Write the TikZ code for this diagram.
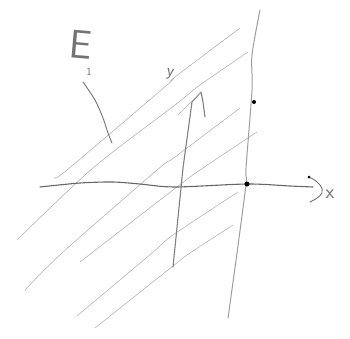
\documentclass[tikz,border=0pt]{standalone}
\begin{document}
\begin{tikzpicture}[x=1pt,y=-1pt,
  diag/.style={black!30, line width=0.55pt, line cap=round},
  axisline/.style={black!60, line width=1.1pt, line cap=round},
  vline/.style={black!38, line width=1pt, line cap=round},
  yshaft/.style={black!50, line width=1.1pt, line cap=round, line join=round},
  pen/.style={black!55, line width=0.9pt, line cap=round, line join=round},
  dot/.style={circle, fill=black, inner sep=0pt, minimum size=#1},
  lbl/.style={inner sep=0pt, text=black!55, font=\sffamily}]
\useasboundingbox (0,0) rectangle (350,338);
\fill[white] (0,0) rectangle (350,338);

% family of parallel diagonal lines
\draw[diag] plot[smooth] coordinates {(55,177) (67,170) (167,85) (175,77) (240,28)};
\draw[diag] plot[smooth] coordinates {(17,240) (93,168) (175,105) (200,85) (248,52)};
\draw[diag] plot[smooth] coordinates {(25,290) (62,253) (157,170) (175,157) (240,108)};
\draw[diag] plot[smooth] coordinates {(80,262) (173,190) (200,170) (257,132)};
\draw[diag] plot[smooth] coordinates {(77,316) (152,253) (173,235) (238,192)};
\draw[diag] plot[smooth] coordinates {(95,328) (173,266) (190,253) (233,225)};

% vertical line through the intersection point
\coordinate (vtop) at (260,10);
\coordinate (vbot) at (228,318);
\draw[vline] plot[smooth] coordinates {(vtop) (252,55) (252,90) (246,168) (246,184) (237,253) (vbot)};

% x axis
\coordinate (xstart) at (40,187);
\coordinate (xend) at (313,187);
\draw[axisline] plot[smooth] coordinates {(xstart) (80,183) (113,182) (140,184) (175,187) (247,184) (290,186) (xend)};
\draw[pen] (309,177) .. controls (318,181) and (324,188) .. (322,193) .. controls (320,197) and (314,200) .. (310,202);
\node[lbl, font=\sffamily\fontsize{20}{20}\selectfont] (xl) at (330,194) {x};

% y arrow
\coordinate (ybot) at (173,267);
\coordinate (ytip) at (201,92);
\draw[yshaft] (ybot) -- (183,168) -- (192,102) -- (ytip) -- (203,102) -- (205,117);
\draw[diag] (178,115) -- (ytip);
\node[lbl, font=\sffamily\fontsize{17}{17}\selectfont, rotate=-10] (yl) at (170,74) {y};

% E_1 label and pointer
\node[lbl, font=\sffamily\fontsize{40}{40}\selectfont, rotate=-5] (E) at (81,45) {E};
\node[lbl, font=\sffamily\fontsize{11}{11}\selectfont] (one) at (89,72) {1};
\draw[pen] plot[smooth] coordinates {(83,82) (95,100) (103,118) (108,133) (112,143)};

% dots
\node[dot=5pt] (p0) at (247,184) {};
\node[dot=4pt] (p1) at (254,102) {};
\node[dot=3pt] (p2) at (309,177) {};
\end{tikzpicture}
\end{document}
